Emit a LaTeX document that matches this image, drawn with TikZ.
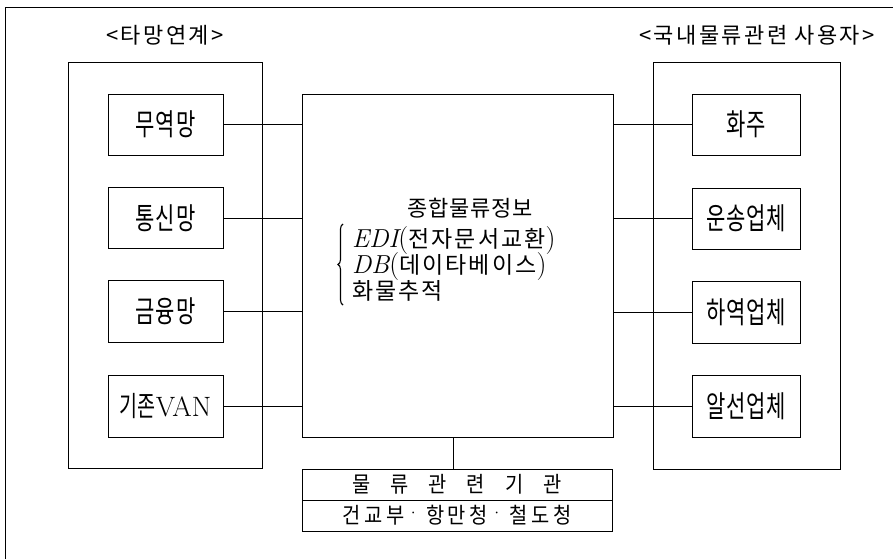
\documentclass[tikz,border=0pt]{standalone}
\usepackage{fontspec}
\usetikzlibrary{decorations.pathreplacing}
\newfontfamily\kr[FakeStretch=0.7]{Noto Sans CJK KR}
\newfontfamily\krw[FakeStretch=0.9]{Noto Sans CJK KR}
\newfontfamily\krn{Noto Sans CJK KR}
\tikzset{
  box/.style={draw, line width=0.9pt, inner sep=0pt},
  grp/.style={draw, line width=0.8pt, inner sep=0pt},
  btxt/.style={font=\fontsize{30}{32}\selectfont\kr\addfontfeature{LetterSpace=3}},
  htxt/.style={font=\fontsize{22}{24}\selectfont\krn\addfontfeature{LetterSpace=11}},
  ctxt/.style={font=\fontsize{23}{26}\selectfont\krn\addfontfeature{LetterSpace=9},
    inner sep=0pt},
  link/.style={line width=0.8pt},
}
\newcommand{\lat}[1]{{\rmfamily\fontsize{28}{30}\selectfont #1}}
\newcommand{\lati}[1]{{\rmfamily\itshape\fontsize{26}{28}\selectfont #1}}
\newcommand{\mdot}{\hspace{1pt}\raisebox{3pt}{\rmfamily\fontsize{22}{24}\selectfont ·}\hspace{5pt}}
\begin{document}
\begin{tikzpicture}[x=1pt,y=-1pt]
\useasboundingbox (0,0) rectangle (893,559);
% outer frame (cut at right and bottom)
\draw[line width=0.9pt] (5,559) -- (5,7) -- (893,7);
% group labels
\node[htxt] (lhead) at (165,35) {<타망연계>};
\node[htxt] (rhead) at (757,35) {<국내물류관련 사용자>};
% group boxes
\node[grp, minimum width=194, minimum height=406] (lgrp) at (165,265) {};
\node[grp, minimum width=187, minimum height=407] (rgrp) at (746.5,265.5) {};
% left boxes
\node[box, btxt, minimum width=115, minimum height=61] (l1) at (165.5,124.5) {무역망};
\node[box, btxt, minimum width=115, minimum height=61] (l2) at (165.5,218) {통신망};
\node[box, btxt, minimum width=115, minimum height=62] (l3) at (165.5,311.5) {금융망};
\node[box, font=\fontsize{28}{30}\selectfont\kr, minimum width=115, minimum height=62] (l4) at (165.5,406)
  {기존{\rmfamily\fontsize{28}{30}\selectfont\addfontfeature{LetterSpace=3}VAN}};
% right boxes
\node[box, btxt, minimum width=108, minimum height=61] (r1) at (746,124.5) {화주};
\node[box, btxt, minimum width=108, minimum height=61] (r2) at (746,218.5) {운송업체};
\node[box, btxt, minimum width=108, minimum height=62] (r3) at (746,312.5) {하역업체};
\node[box, btxt, minimum width=108, minimum height=62] (r4) at (746,406.5) {알선업체};
% center box
\node[box, minimum width=311, minimum height=343] (c) at (457.5,265.5) {};
\node[ctxt, anchor=base, font=\fontsize{22}{24}\selectfont\krn\addfontfeature{LetterSpace=4}] (t0) at (470,216) {종합물류정보};
\node[ctxt, anchor=base west] (t1) at (352,247)
  {\lati{EDI}\lat{(}전자문서교환\lat{)}};
\node[ctxt, anchor=base west] (t2) at (352,273)
  {\lati{DB}\lat{(}데이타베이스\lat{)}};
\node[ctxt, anchor=base west] (t3) at (352,299) {화물추적};
\draw[line width=1.1pt, decorate, decoration={brace, amplitude=5pt}] (343,305) -- (343,224);
% bottom organisation box
\node[box, minimum width=310, minimum height=31,
  font=\fontsize{22}{24}\selectfont\krw] (o1) at (457,484.5)
  {물\hspace{20pt}류\hspace{20pt}관\hspace{20pt}련\hspace{20pt}기\hspace{20pt}관};
\node[box, minimum width=310, minimum height=31,
  font=\fontsize{22}{24}\selectfont\krw\addfontfeature{LetterSpace=16}] (o2) at (457,515.5)
  {건교부\mdot 항만청\mdot 철도청};
% connectors
\foreach \n in {l1,l2,l3,l4}{ \draw[link] (\n.east) -- (\n.east -| c.west); }
\foreach \n in {r1,r2,r3,r4}{ \draw[link] (\n.west) -- (\n.west -| c.east); }
\draw[link] (c.south -| 453,0) -- (o1.north -| 453,0);
\end{tikzpicture}
\end{document}
